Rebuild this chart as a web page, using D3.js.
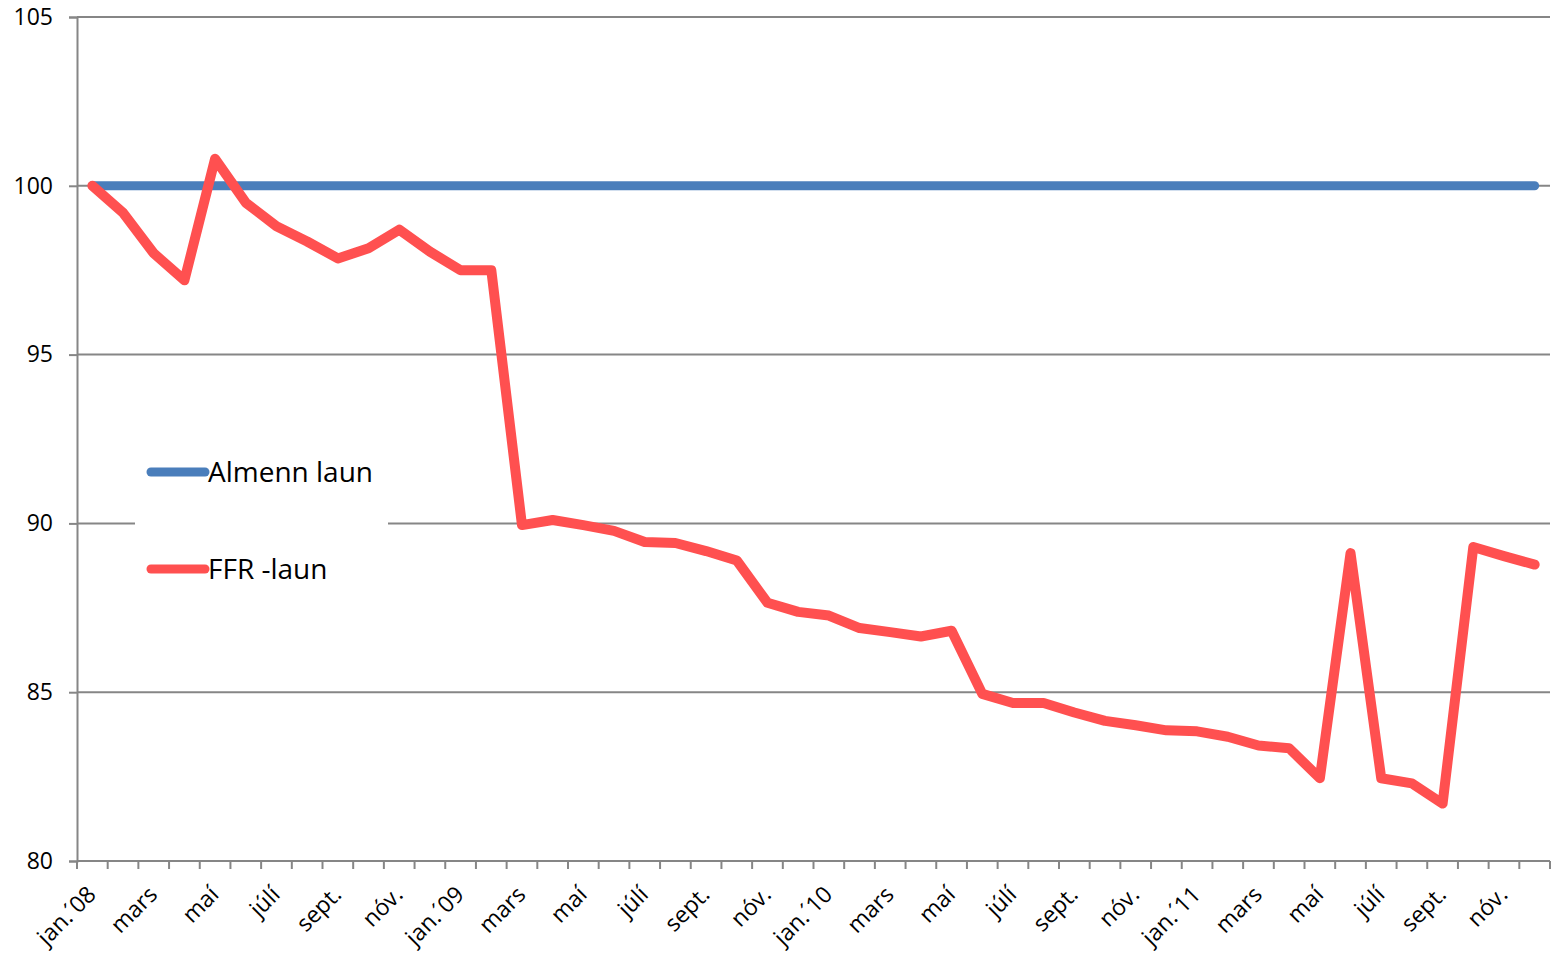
<!DOCTYPE html>
<html>
<head>
<meta charset="utf-8">
<script src="https://cdn.jsdelivr.net/npm/d3@7"></script>
<style>
  body { margin: 0; background: #fff; }
  svg text { font-family: "Open Sans", "Noto Sans", sans-serif; fill: #000; }
  .axis path, .axis line { stroke: #868686; stroke-width: 2; }
  .grid line { stroke: #868686; stroke-width: 2; }
</style>
</head>
<body>
<div id="chart-area"></div>
<script>
const monthNames = ["jan.", "feb.", "mars", "apríl", "maí", "júní", "júlí", "ágúst", "sept.", "okt.", "nóv.", "des."];
const years = ["08", "09", "10", "11"];
const months = [];
years.forEach(y => monthNames.forEach((m, i) => months.push(i === 0 ? `${m}´${y}` : m)));

const almenn = months.map(() => 100);
const ffr = [
  100, 99.2, 98.0, 97.2, 100.8, 99.5, 98.8, 98.35, 97.85, 98.15, 98.7, 98.05,
  97.5, 97.5, 89.95, 90.1, 89.95, 89.78, 89.45, 89.42, 89.18, 88.9, 87.65, 87.38,
  87.27, 86.9, 86.78, 86.65, 86.82, 84.95, 84.68, 84.68, 84.4, 84.15, 84.02, 83.87,
  83.84, 83.68, 83.42, 83.34, 82.45, 89.12, 82.45, 82.3, 81.7, 89.3, 89.03, 88.78
];
const yTicks = [80, 85, 90, 95, 100, 105];

const chart = { width: 1553, height: 956 };
const margin = { top: 17, right: 3, left: 77, bottom: 95 };
const width = chart.width - margin.left - margin.right;
const height = chart.height - margin.top - margin.bottom;

const svg = d3.select("#chart-area").append("svg")
  .attr("width", chart.width)
  .attr("height", chart.height);

const g = svg.append("g")
  .attr("transform", `translate(${margin.left}, ${margin.top})`);

// band scale over month index (month names repeat every year)
const x = d3.scaleBand().domain(d3.range(months.length)).range([0, width]);
const y = d3.scaleLinear().domain([80, 105]).range([height, 0]);
const cx = i => x(i) + x.bandwidth() / 2;

// gridlines
g.append("g").attr("class", "grid")
  .selectAll("line").data(yTicks.filter(t => t > 80)).enter()
  .append("line")
  .attr("x1", 0).attr("x2", width)
  .attr("y1", d => y(d)).attr("y2", d => y(d));

// y axis
const yAxis = g.append("g").attr("class", "axis")
  .call(d3.axisLeft(y).tickValues(yTicks).tickSize(8).tickPadding(16));
yAxis.selectAll("text").style("font-size", "23px");

// x axis: ticks at category boundaries
const xAxisG = g.append("g").attr("class", "axis")
  .attr("transform", `translate(0, ${height})`);
xAxisG.append("line").attr("x1", 0).attr("x2", width);
xAxisG.selectAll(".tk").data(d3.range(months.length + 1)).enter()
  .append("line")
  .attr("x1", i => i * x.step()).attr("x2", i => i * x.step())
  .attr("y1", 0).attr("y2", 8);
xAxisG.selectAll(".lbl").data(d3.range(0, months.length, 2)).enter()
  .append("text")
  .attr("transform", i => `translate(${cx(i) + 5}, 35) rotate(-45)`)
  .attr("text-anchor", "end")
  .style("font-size", "23px")
  .text(i => months[i]);

// legend background (covers the gridline behind it)
svg.append("rect")
  .attr("x", 135).attr("y", 440).attr("width", 253).attr("height", 160)
  .attr("fill", "#fff");

// lines
const line = vals => d3.line()
  .x((v, i) => cx(i))
  .y(v => y(v))(vals);

g.append("path")
  .attr("d", line(almenn))
  .attr("fill", "none")
  .attr("stroke", "#4a7ebb")
  .attr("stroke-width", 9)
  .attr("stroke-linecap", "round");

g.append("path")
  .attr("d", line(ffr))
  .attr("fill", "none")
  .attr("stroke", "#ff5050")
  .attr("stroke-width", 10)
  .attr("stroke-linejoin", "round")
  .attr("stroke-linecap", "round");

// legend
const items = [
  { name: "Almenn laun", color: "#4a7ebb", y: 472 },
  { name: "FFR -laun", color: "#ff5050", y: 569 }
];
const legend = svg.append("g");
items.forEach(it => {
  legend.append("line")
    .attr("x1", 151).attr("x2", 205)
    .attr("y1", it.y).attr("y2", it.y)
    .attr("stroke", it.color).attr("stroke-width", 9)
    .attr("stroke-linecap", "round");
  legend.append("text")
    .attr("x", 208).attr("y", it.y + 10)
    .style("font-size", "28px")
    .text(it.name);
});
</script>
</body>
</html>
